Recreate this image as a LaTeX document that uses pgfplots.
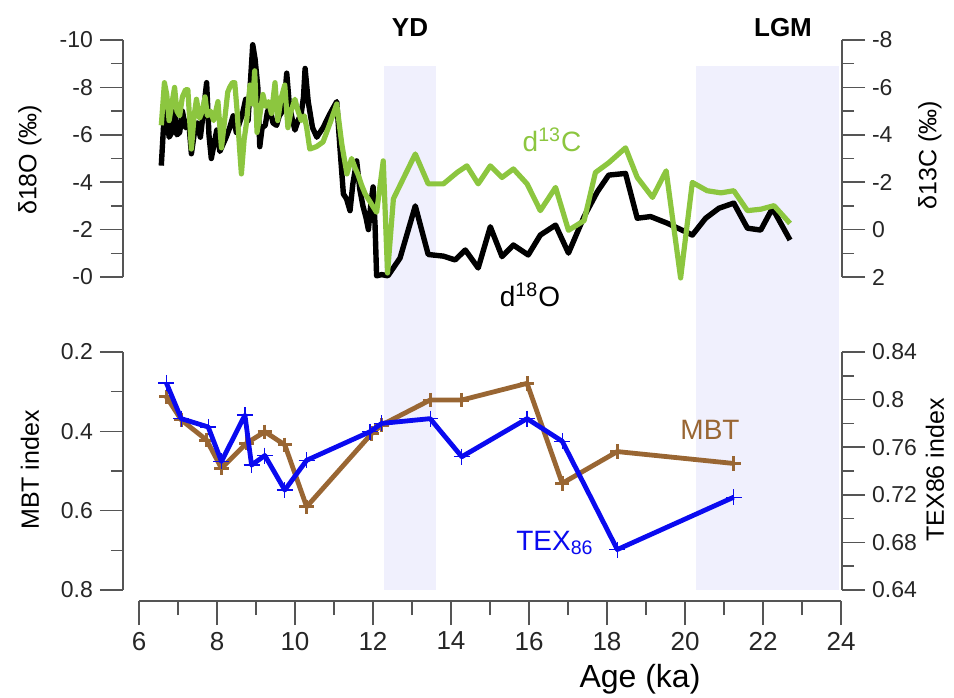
\documentclass[border=0pt]{standalone}
\usepackage{pgfplots}
\pgfplotsset{compat=1.18}
\usepackage{fontspec}
\setmainfont{Liberation Sans}
\definecolor{cgreen}{HTML}{8CC63F}
\definecolor{cbrown}{HTML}{996633}
\definecolor{cblue}{HTML}{0A0AF0}
\definecolor{shade}{HTML}{F0F0FD}
\definecolor{axgray}{HTML}{555555}
\pgfplotsset{
  panel/.style={scale only axis, width=359.5pt, xmin=5.6, xmax=24, clip=false,
    axis x line=none,
    axis line style={axgray, line width=0.8pt, -},
    tick style={axgray, line width=0.8pt},
    major tick length=11.5pt, minor tick length=6pt,
    tick align=outside,
    yticklabel style={font=\fontsize{11.5}{13}\selectfont, text=black!85},
    /pgf/number format/assume math mode=true,
    minor y tick num=1,
  }
}
\begin{document}
\begin{tikzpicture}
\useasboundingbox (0,0) rectangle (477pt,348.5pt);
% ---------- bottom panel, MBT (left) ----------
\begin{axis}[panel, at={(61.5pt,53.5pt)}, anchor=south west, height=119pt,
  axis y line*=left, ymin=0.2, ymax=0.8, y dir=reverse,
  ytick={0.2,0.4,0.6,0.8}, yticklabels={0.2,0.4,0.6,0.8}]
\addplot[draw=none, fill=shade] coordinates {(12.28,-0.521) (13.62,-0.521) (13.62,0.8) (12.28,0.8)} -- cycle;
\addplot[draw=none, fill=shade] coordinates {(20.26,-0.521) (23.92,-0.521) (23.92,0.8) (20.26,0.8)} -- cycle;
\addplot[cbrown, line width=2.4pt, line join=round, mark=+, mark size=3.6pt,
  mark options={line width=1.5pt}] coordinates {
(6.71,0.313) (7.09,0.371) (7.74,0.422) (8.12,0.493) (8.76,0.430) (9.23,0.401)
(9.74,0.434) (10.30,0.590) (11.97,0.405) (12.22,0.384) (13.46,0.321) (14.27,0.321)
(15.94,0.279) (16.84,0.531) (18.25,0.451) (21.23,0.481)};
\end{axis}
% ---------- bottom panel, TEX86 (right) ----------
\begin{axis}[panel, at={(61.5pt,53.5pt)}, anchor=south west, height=119pt,
  axis y line*=right, ymin=0.64, ymax=0.84,
  ytick={0.64,0.68,0.72,0.76,0.8,0.84}, yticklabels={0.64,0.68,0.72,0.76,0.8,0.84}]
\addplot[cblue, line width=2.4pt, line join=round, mark=+, mark size=4pt,
  mark options={line width=0.6pt}] coordinates {
(6.71,0.814) (7.09,0.784) (7.78,0.777) (8.12,0.748) (8.72,0.787) (8.89,0.745)
(9.23,0.753) (9.74,0.724) (10.30,0.749) (11.92,0.773) (12.22,0.780) (13.46,0.784)
(14.27,0.752) (15.94,0.784) (16.84,0.765) (18.25,0.674) (21.23,0.718)};
\end{axis}
% ---------- top panel, d18O (left) ----------
\begin{axis}[panel, at={(61.5pt,210pt)}, anchor=south west, height=118.5pt,
  axis y line*=left, ymin=-10, ymax=0, y dir=reverse,
  ytick={-10,-8,-6,-4,-2,0}, yticklabels={-10,-8,-6,-4,-2,-0}]
\addplot[black, line width=2.7pt, line join=round] coordinates {
(6.58,-4.7) (6.66,-7.0) (6.72,-6.9) (6.78,-5.9) (6.85,-6.1) (6.92,-7.0) (6.98,-6.0)
(7.05,-6.1) (7.12,-7.0) (7.20,-6.3) (7.28,-6.6) (7.35,-5.2) (7.42,-6.0) (7.50,-6.5)
(7.58,-5.9) (7.66,-7.0) (7.74,-8.2) (7.80,-6.0) (7.86,-5.0) (7.93,-5.6) (8.00,-6.2)
(8.08,-5.3) (8.16,-5.6) (8.24,-5.9) (8.33,-6.3) (8.42,-6.8) (8.50,-6.1) (8.58,-6.5)
(8.66,-6.9) (8.74,-7.5) (8.80,-6.6) (8.86,-8.2) (8.92,-9.8) (8.98,-9.2) (9.05,-8.0)
(9.10,-5.5) (9.16,-6.3) (9.24,-6.4) (9.30,-7.0) (9.36,-7.1) (9.44,-6.5) (9.53,-6.4)
(9.60,-6.8) (9.68,-7.0) (9.74,-7.6) (9.79,-8.6) (9.86,-7.2) (9.94,-6.6) (10.00,-6.2)
(10.08,-6.6) (10.16,-6.9) (10.22,-7.6) (10.26,-8.8) (10.34,-7.4) (10.45,-6.3)
(10.56,-5.9) (10.72,-6.3) (10.90,-6.9) (11.07,-7.4) (11.15,-5.5) (11.24,-3.5)
(11.32,-3.3) (11.41,-2.8) (11.48,-3.9) (11.58,-4.9) (11.66,-3.7) (11.74,-3.0)
(11.82,-2.5) (11.88,-2.0) (11.95,-3.2) (12.00,-3.8) (12.05,-2.2) (12.09,-0.05)
(12.22,-0.1) (12.38,-0.05) (12.69,-0.8) (13.08,-3.0) (13.41,-0.95) (13.80,-0.88)
(14.10,-0.72) (14.36,-1.14) (14.69,-0.38) (15.00,-2.12) (15.30,-0.86) (15.59,-1.35)
(15.97,-0.93) (16.28,-1.77) (16.67,-2.19) (17.00,-1.01) (17.40,-2.55) (17.74,-3.6)
(18.03,-4.3) (18.46,-4.37) (18.76,-2.48) (19.10,-2.55) (19.53,-2.27) (20.17,-1.77)
(20.51,-2.48) (20.85,-2.9) (21.23,-3.12) (21.58,-2.06) (21.92,-1.98) (22.22,-2.9)
(22.67,-1.56)};
\end{axis}
% ---------- top panel, d13C (right) ----------
\begin{axis}[panel, at={(61.5pt,210pt)}, anchor=south west, height=118.5pt,
  axis y line*=right, ymin=-8, ymax=2, y dir=reverse,
  ytick={-8,-6,-4,-2,0,2}, yticklabels={-8,-6,-4,-2,0,2}]
\addplot[cgreen, line width=2.6pt, line join=round] coordinates {
(6.58,-4.4) (6.66,-6.2) (6.72,-5.7) (6.78,-4.6) (6.85,-5.3) (6.92,-6.0) (6.98,-5.0)
(7.05,-4.8) (7.12,-5.6) (7.20,-5.9) (7.26,-5.9) (7.35,-3.4) (7.42,-4.8) (7.48,-5.5)
(7.56,-4.7) (7.63,-5.0) (7.70,-5.6) (7.76,-4.8) (7.84,-5.0) (7.92,-4.6) (8.03,-5.4)
(8.12,-3.45) (8.20,-4.6) (8.28,-5.8) (8.33,-6.0) (8.40,-6.2) (8.46,-6.2) (8.52,-5.0)
(8.58,-3.5) (8.63,-2.35) (8.70,-3.8) (8.76,-4.5) (8.85,-6.1) (8.92,-5.3) (8.97,-6.7)
(9.03,-4.1) (9.10,-4.8) (9.18,-5.7) (9.25,-5.2) (9.32,-5.4) (9.40,-4.9) (9.49,-6.2)
(9.56,-4.6) (9.64,-5.5) (9.74,-6.1) (9.82,-4.3) (9.90,-5.0) (10.00,-5.5) (10.08,-5.0)
(10.16,-4.6) (10.24,-4.8) (10.30,-4.3) (10.38,-3.4) (10.55,-3.5) (10.72,-3.7)
(10.90,-4.5) (11.07,-5.3) (11.20,-3.6) (11.33,-2.35) (11.45,-3.0) (11.54,-2.6)
(11.62,-2.3) (11.70,-1.9) (11.80,-1.5) (11.95,-1.1) (12.09,-0.73) (12.15,-1.5)
(12.26,-2.9) (12.37,1.83) (12.52,-1.3) (13.08,-3.19) (13.41,-1.93) (13.80,-1.93)
(14.15,-2.41) (14.40,-2.69) (14.69,-1.93) (15.00,-2.69) (15.30,-2.2) (15.59,-2.56)
(15.94,-1.93) (16.28,-0.8) (16.67,-1.78) (17.00,0.03) (17.40,-0.38) (17.69,-2.41)
(18.03,-2.82) (18.46,-3.45) (18.76,-2.2) (19.15,-1.36) (19.50,-2.48) (19.87,2.04)
(20.17,-1.99) (20.55,-1.64) (20.90,-1.55) (21.23,-1.64) (21.58,-0.8) (21.92,-0.86)
(22.26,-1.01) (22.67,-0.26)};
\end{axis}
% ---------- bottom x axis ----------
\begin{axis}[scale only axis, at={(69.5pt,48pt)}, anchor=south west, width=351pt, height=10pt,
  xmin=6, xmax=24, ymin=0, ymax=1, axis x line*=bottom, axis y line=none,
  axis line style={axgray, line width=0.8pt, -},
  tick style={axgray, line width=0.8pt},
  major tick length=12pt, minor tick length=7pt, tick align=outside,
  xtick={6,8,...,24}, minor x tick num=1,
  xticklabel style={font=\fontsize{13}{15}\selectfont, text=black!85},
  /pgf/number format/assume math mode=true]
\addplot[draw=none] coordinates {(6,0) (24,0)};
\end{axis}
% ---------- texts ----------
\node[font=\fontsize{13}{15}\selectfont\bfseries] at (205pt,334.5pt) {YD};
\node[font=\fontsize{13}{15}\selectfont\bfseries] at (391.5pt,334.5pt) {LGM};
\node[rotate=90, font=\fontsize{12.5}{14}\selectfont] at (15pt,268.5pt) {δ18O (‰)};
\node[rotate=90, font=\fontsize{12.5}{14}\selectfont] at (465pt,271pt) {δ13C (‰)};
\node[rotate=90, font=\fontsize{12.5}{14}\selectfont] at (15pt,113.5pt) {MBT index};
\node[rotate=90, font=\fontsize{12.5}{14}\selectfont] at (467.5pt,113.5pt) {TEX86 index};
\node[text=cgreen, font=\fontsize{14}{16}\selectfont] at (276pt,278.5pt) {d\textsuperscript{13}C};
\node[text=black, font=\fontsize{14}{16}\selectfont] at (265pt,201pt) {d\textsuperscript{18}O};
\node[text=cbrown, font=\fontsize{14}{16}\selectfont] at (355pt,133.5pt) {MBT};
\node[text=cblue, font=\fontsize{14}{16}\selectfont] at (277.5pt,77pt) {TEX\textsubscript{86}};
\node[font=\fontsize{16}{18}\selectfont] at (320pt,9pt) {Age (ka)};
\end{tikzpicture}
\end{document}
